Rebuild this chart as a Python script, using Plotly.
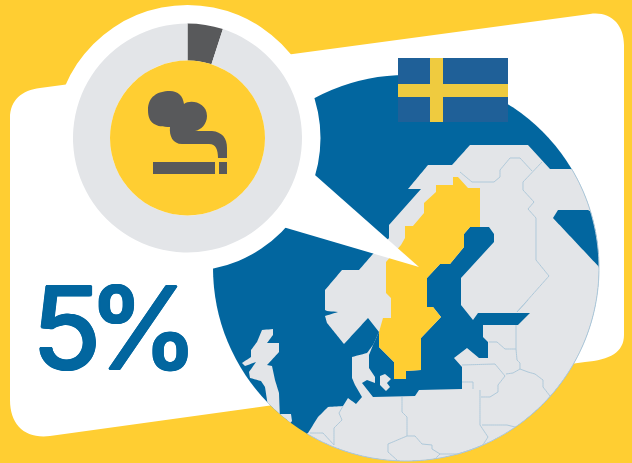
import math
import plotly.graph_objects as go

W, H = 632, 463

# ---- data ----
categories = ["Smokers", "Non-smokers"]
shares = [5, 95]
headline = "5%"

# ---- palette ----
YELLOW = "#FFCE32"
BLUE = "#02669F"
LAND = "#E3E5E8"
DARK = "#58595B"
BORDER = "#AFC9DA"
FLAG_BLUE = "#1F6098"
FLAG_YELLOW = "#EFCB3F"

# ---- illustration outlines (pixel space of the picture) ----
GLOBE = (406, 268, 193)

land_main = [
    (379, 332), (368, 318), (344, 344), (327, 323), (325, 316), (338, 312), (327, 311), (325, 310),
    (325, 290), (342, 270), (359, 270), (372, 255), (389, 238), (389, 225), (421, 189), (408, 189),
    (428, 165), (452, 165), (470, 145), (528, 145), (550, 169), (572, 169),
    (640, 200), (660, 268), (640, 340), (600, 420), (500, 480), (400, 480), (300, 440),
    (308, 433), (318, 417), (328, 407), (343, 406), (348, 398), (356, 404), (362, 397), (355, 385),
    (352, 378), (352, 357), (367, 353), (373, 345),
]
white_sea = [(553, 218), (558, 210), (588, 210), (640, 240), (640, 300), (600, 268)]
baltic = [
    (373, 345), (369, 355), (369, 368), (375, 377), (375, 383), (367, 380), (362, 383), (373, 397),
    (415, 396), (419, 390), (462, 389), (462, 367), (454, 358), (467, 348), (479, 358), (488, 358),
    (488, 342), (483, 337), (483, 325), (518, 325), (530, 313), (478, 313), (473, 320), (461, 305),
    (461, 278), (494, 242), (494, 234), (489, 227), (470, 227), (464, 234), (464, 247), (450, 264),
    (440, 264), (427, 278), (427, 307), (433, 307), (441, 317), (421, 338), (421, 370), (406, 371),
    (406, 379), (394, 379), (394, 362), (379, 347), (379, 332),
]
sweden = [
    (453, 177), (458, 177), (468, 188), (480, 188), (480, 227), (470, 227), (464, 234), (464, 247),
    (450, 264), (440, 264), (427, 278), (427, 307), (433, 307), (441, 317), (421, 338), (421, 370),
    (406, 371), (406, 379), (394, 379), (394, 362), (379, 347), (379, 332), (383, 318), (391, 318),
    (391, 298), (386, 293), (386, 262), (401, 245), (405, 238), (405, 226), (413, 226), (424, 213),
    (424, 203), (436, 192), (436, 185), (453, 185),
]
britain = [
    (262, 330), (273, 329), (273, 335), (267, 343), (279, 343), (279, 352), (267, 365), (272, 366),
    (275, 380), (279, 393), (280, 420), (270, 420), (265, 387), (261, 381), (250, 378), (249, 372),
    (256, 362), (245, 366), (242, 363), (251, 357), (251, 350), (257, 342),
]
brittany = [(280, 414), (291, 414), (292, 421), (285, 430)]
zealand = [(380, 376), (385, 374), (391, 379), (387, 383), (390, 387), (386, 391), (380, 385)]

borders = [
    [(460, 172), (472, 182), (494, 182), (500, 177), (500, 170), (510, 158), (520, 158), (532, 171)],
    [(542, 162), (523, 182), (523, 190), (534, 202), (528, 209), (536, 218), (536, 260), (549, 276),
     (517, 312), (528, 300)],
    [(402, 397), (402, 412), (407, 417), (407, 436)],
    [(388, 444), (407, 436), (415, 436), (422, 444), (432, 445), (432, 449), (440, 454), (435, 459)],
    [(388, 444), (388, 452), (397, 460)],
    [(440, 454), (477, 454), (488, 437), (480, 425), (480, 390)],
    [(462, 382), (473, 382), (473, 389)],
    [(462, 365), (495, 364), (505, 376), (498, 385), (498, 392), (490, 397), (481, 397)],
    [(489, 342), (497, 342), (505, 349), (516, 349), (516, 325)],
    [(516, 349), (517, 360), (520, 363), (520, 369), (513, 373), (506, 374)],
    [(520, 369), (528, 372), (535, 374), (543, 380), (543, 387), (550, 396)],
    [(482, 425), (507, 425), (515, 427)],
    [(310, 433), (323, 433), (334, 445)],
    [(334, 445), (334, 428), (342, 420), (339, 413), (343, 406)],
]


def px(x, y):
    return f"{x / W:.5f},{1 - y / H:.5f}"


def clip(points, closed=True):
    """Subdivide edges and pull anything outside the globe back on to its rim."""
    cx, cy, r = GLOBE
    pts = list(points) + ([points[0]] if closed else [])
    out = []
    for (x0, y0), (x1, y1) in zip(pts, pts[1:]):
        n = max(1, int(math.hypot(x1 - x0, y1 - y0) / 2))
        for i in range(n):
            x, y = x0 + (x1 - x0) * i / n, y0 + (y1 - y0) * i / n
            d = math.hypot(x - cx, y - cy)
            if d > r:
                x, y = cx + (x - cx) * r / d, cy + (y - cy) * r / d
            out.append((x, y))
    if not closed:
        out.append(pts[-1])
    return out


def poly(points, closed=True):
    return "M" + " L".join(px(x, y) for x, y in points) + (" Z" if closed else "")


def curve(commands):
    """commands: list of (letter, [(x, y), ...]) in pixel space."""
    return " ".join(c + " ".join(px(x, y) for x, y in p) for c, p in commands) + " Z"


def fill_shape(path, color, layer="below"):
    return dict(type="path", xref="paper", yref="paper", path=path, fillcolor=color,
                line=dict(width=0), layer=layer)


def circle(cx, cy, r, color, layer="below"):
    return dict(type="circle", xref="paper", yref="paper", x0=(cx - r) / W, x1=(cx + r) / W,
                y0=1 - (cy + r) / H, y1=1 - (cy - r) / H, fillcolor=color,
                line=dict(width=0), layer=layer)


def rect(x0, y0, x1, y1, color, layer="below"):
    return dict(type="rect", xref="paper", yref="paper", x0=x0 / W, x1=x1 / W,
                y0=1 - y1 / H, y1=1 - y0 / H, fillcolor=color, line=dict(width=0), layer=layer)


card = curve([
    ("M", [(10, 118)]), ("C", [(10, 100), (22, 90), (40, 88)]), ("L", [(590, 14)]),
    ("C", [(610, 11), (624, 24), (624, 45)]), ("L", [(624, 335)]),
    ("C", [(624, 352), (610, 360), (585, 362)]), ("L", [(50, 436)]),
    ("C", [(25, 439), (10, 425), (10, 400)]),
])
smoke = curve([
    ("M", [(148, 110)]), ("C", [(148, 97), (157, 91), (170, 91)]),
    ("C", [(178, 91), (183, 96), (184, 104)]), ("C", [(190, 99), (207, 102), (207, 116)]),
    ("C", [(207, 124), (201, 130), (195, 131)]), ("L", [(212, 131)]),
    ("C", [(222, 132), (227, 138), (227, 148)]), ("L", [(227, 158)]), ("L", [(218, 158)]),
    ("C", [(218, 150), (216, 144), (209, 144)]), ("L", [(182, 144)]),
    ("C", [(173, 144), (169, 136), (170, 127)]), ("C", [(156, 127), (148, 124), (148, 110)]),
])
tail = poly([(298, 160), (419, 267), (283, 227)])

cx, cy, r = GLOBE
a0, a1 = math.atan2(169 - cy, 572 - cx), math.atan2(433 - cy, 308 - cx)
if a1 < a0:
    a1 += 2 * math.pi
rim = [(cx + r * math.cos(a0 + (a1 - a0) * i / 120), cy + r * math.sin(a0 + (a1 - a0) * i / 120))
       for i in range(121)]

shapes = [fill_shape(card, "#FFFFFF"), circle(cx, cy, r, BLUE)]
shapes.append(fill_shape(poly(clip(land_main)), LAND))
for island in (britain, brittany, zealand):
    shapes.append(fill_shape(poly(clip(island)), LAND))
shapes.append(fill_shape(poly(clip(white_sea)), BLUE))
shapes.append(fill_shape(poly(baltic), BLUE))
shapes.append(fill_shape(poly(zealand), LAND))
shapes.append(fill_shape(poly(sweden), YELLOW))
for b in borders:
    shapes.append(dict(type="path", xref="paper", yref="paper", path=poly(clip(b, False), False),
                       line=dict(color=BORDER, width=1), layer="below"))
shapes.append(dict(type="path", xref="paper", yref="paper", path=poly(rim, False),
                   line=dict(color=BORDER, width=1), layer="below"))
shapes += [
    rect(398, 58, 508, 122, FLAG_BLUE),
    rect(398, 84, 508, 97, FLAG_YELLOW),
    rect(430, 58, 443, 122, FLAG_YELLOW),
    circle(187.5, 138, 133, "#FFFFFF"),
    fill_shape(tail, "#FFFFFF"),
    circle(187.5, 138, 77.5, YELLOW, layer="above"),
    fill_shape(smoke, DARK, layer="above"),
    rect(153, 162, 215, 174, DARK, layer="above"),
    rect(219, 162, 227, 174, DARK, layer="above"),
]

fig = go.Figure(go.Pie(
    labels=categories, values=shares, sort=False, direction="clockwise", rotation=0,
    hole=0.677, textinfo="none", hoverinfo="label+percent", showlegend=False,
    marker=dict(colors=[DARK, LAND], line=dict(width=0)),
    domain=dict(x=[73 / W, 302 / W], y=[1 - 252.5 / H, 1 - 23.5 / H]),
))
thick = ", ".join(f"{dx}px {dy}px 0 {BLUE}" for dx, dy in
                  [(1.5, 0), (-1.5, 0), (0, 1), (0, -1), (1, 1), (-1, 1), (1, -1), (-1, -1)])
fig.update_layout(
    width=W, height=H, margin=dict(l=0, r=0, t=0, b=0), autosize=False,
    paper_bgcolor=YELLOW, plot_bgcolor=YELLOW, shapes=shapes,
    annotations=[dict(
        text=headline, x=108 / W, y=1 - 327 / H, xref="paper", yref="paper", showarrow=False,
        xanchor="center", yanchor="middle",
        font=dict(family="Inter", size=114, color=BLUE, shadow=thick),
    )],
)
fig.write_html(
    "out.html",
    config=dict(displayModeBar=False),
    post_script=(
        "document.body.style.margin='0';document.documentElement.style.overflow='hidden';"
        "document.querySelectorAll('.annotation-text').forEach(function(t){t.style.letterSpacing='-14px';});"
    ),
)
